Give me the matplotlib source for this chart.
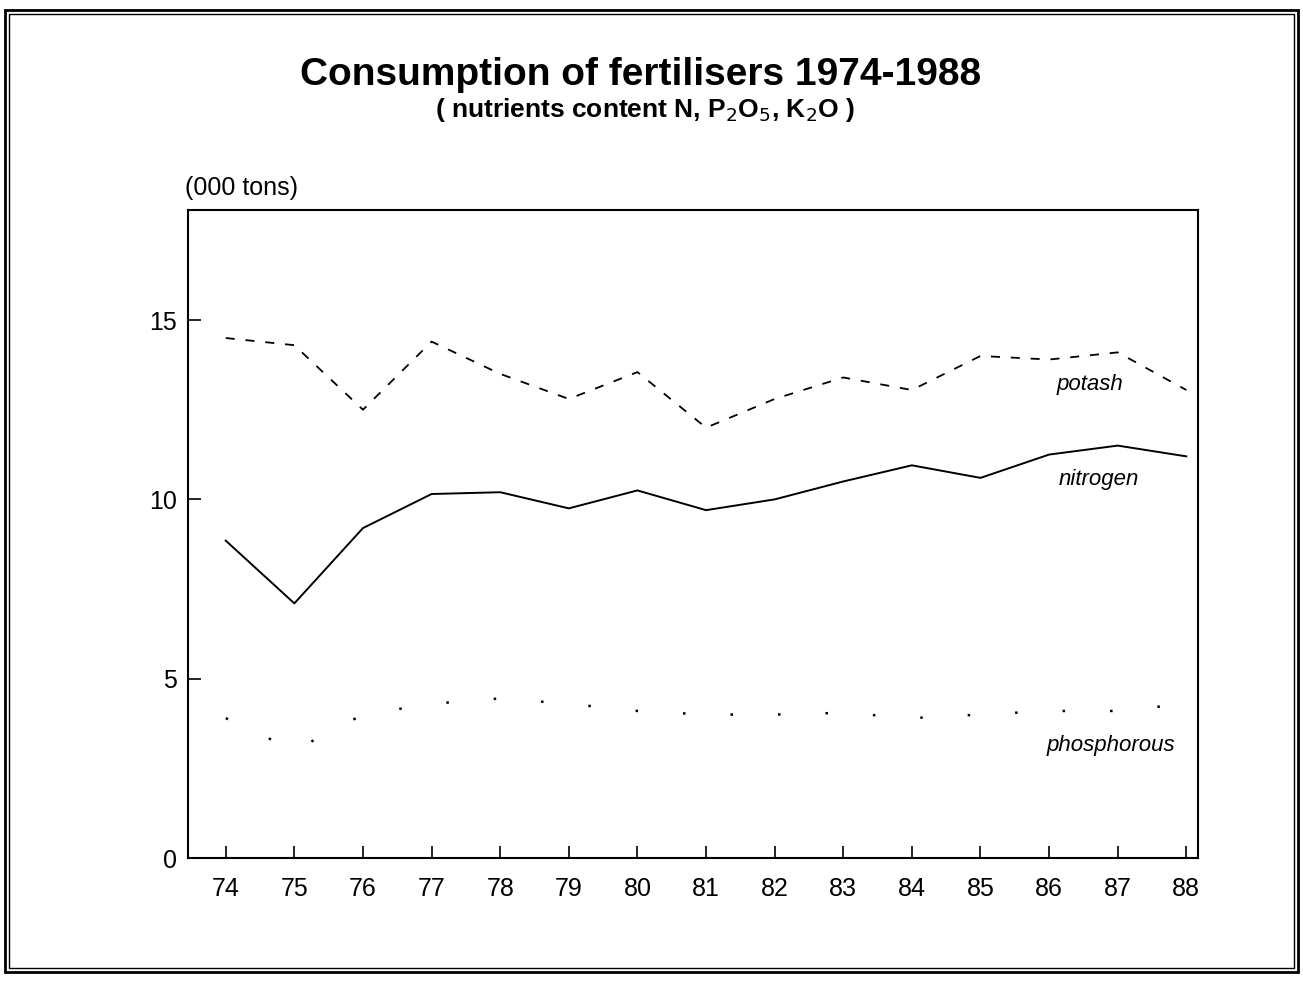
import matplotlib
matplotlib.use("Agg")
import matplotlib.pyplot as plt
from matplotlib.patches import Rectangle

years = list(range(74, 89))
year_labels = [str(y) for y in years]

potash = [14.5, 14.3, 12.5, 14.4, 13.5, 12.8, 13.55, 12.0, 12.8, 13.4, 13.05, 14.0, 13.9, 14.1, 13.05]
nitrogen = [8.85, 7.1, 9.2, 10.15, 10.2, 9.75, 10.25, 9.7, 10.0, 10.5, 10.95, 10.6, 11.25, 11.5, 11.2]
phosphorous = [3.9, 3.0, 4.0, 4.3, 4.45, 4.3, 4.1, 4.0, 4.0, 4.05, 3.9, 4.0, 4.1, 4.1, 4.3]

plt.rcParams['font.family'] = ['Liberation Sans', 'DejaVu Sans']

fig = plt.figure(figsize=(13.03, 9.82), dpi=100)
ax = fig.add_axes([188 / 1303, 1 - 858 / 982, (1198 - 188) / 1303, (858 - 210) / 982])

ax.plot(years, potash, color='black', lw=1.3, linestyle=(0, (5, 6)))
ax.plot(years, nitrogen, color='black', lw=1.4)
ax.plot(years, phosphorous, color='black', lw=1.8, linestyle=(0, (1, 18)))

ax.set_xlim(73.45, 88.17)
ax.set_ylim(0, 18.07)
ax.set_xticks(years)
ax.set_xticklabels(year_labels)
ax.set_yticks([0, 5, 10, 15])
ax.tick_params(direction='in', length=9, width=1.2, labelsize=18, pad=14)
ax.tick_params(axis='y', pad=8)
for s in ax.spines.values():
    s.set_linewidth(1.5)

ax.text(86.6, 13.2, 'potash', fontsize=16, style='italic', ha='center', va='center')
ax.text(86.72, 10.55, 'nitrogen', fontsize=16, style='italic', ha='center', va='center')
ax.text(86.9, 3.15, 'phosphorous', fontsize=16, style='italic', ha='center', va='center')

fig.text(185 / 1303, 1 - 188 / 982, '(000 tons)', fontsize=18, ha='left', va='center')
fig.text(641 / 1303, 1 - 75 / 982, 'Consumption of fertilisers 1974-1988',
         fontsize=28, fontweight='bold', ha='center', va='center')
fig.text(645 / 1303, 1 - 110 / 982, r'( nutrients content N, P$_2$O$_5$, K$_2$O )',
         fontsize=19, fontweight='bold', ha='center', va='center')

# double frame around the page
fig.patches.append(Rectangle((5 / 1303, 10 / 982), 1293 / 1303, 962 / 982,
                             transform=fig.transFigure, fill=False, lw=2, color='black'))
fig.patches.append(Rectangle((9 / 1303, 14 / 982), 1285 / 1303, 954 / 982,
                             transform=fig.transFigure, fill=False, lw=1, color='black'))

fig.savefig('out.png', dpi=100)
